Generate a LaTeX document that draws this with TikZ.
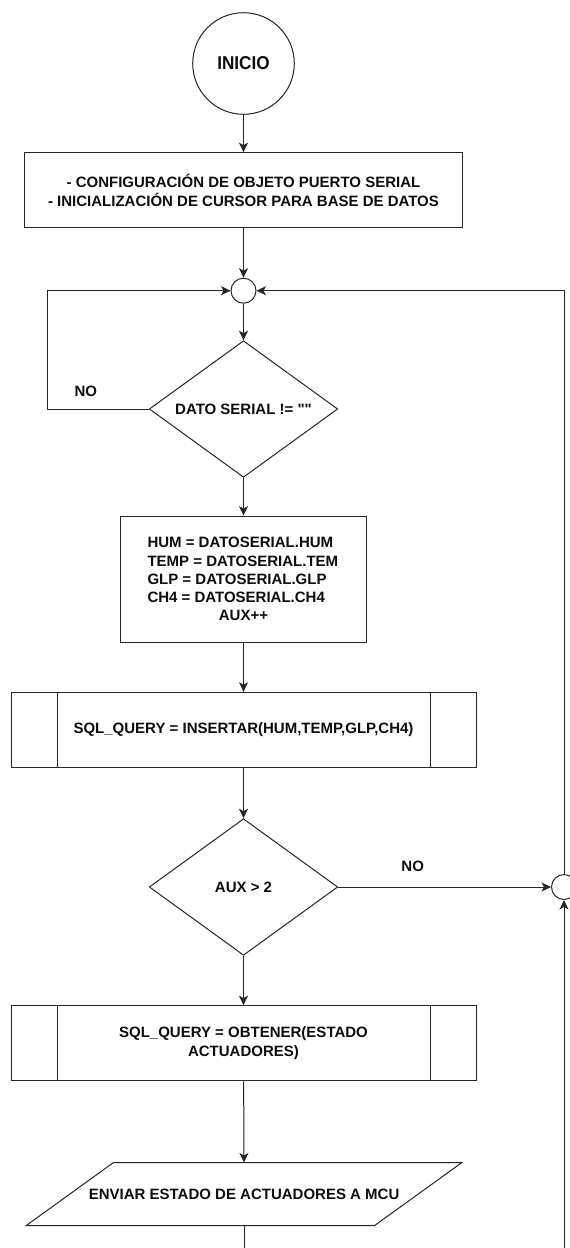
\documentclass[tikz,border=0pt]{standalone}
\usepackage{fontspec}
\setmainfont{Liberation Sans}[Ligatures=TeXOff]
\newfontfamily\startfont{Liberation Sans}[Ligatures=TeXOff, FakeStretch=0.92]
\usetikzlibrary{shapes.geometric,arrows.meta,calc}
\begin{document}
\begin{tikzpicture}[x=1pt,y=-1pt,
  line/.style={draw=black!85, line width=1pt},
  flow/.style={line, -{Stealth[length=9.5pt,width=9pt,inset=2.5pt]}},
  txt/.style={font=\fontsize{15}{19.3}\selectfont\bfseries, text=black!95},
  box/.style={txt, line, rectangle, inner sep=0pt, align=center},
  junction/.style={line, circle, minimum size=25pt, inner sep=0pt},
  decision/.style={txt, line, diamond, aspect=1.38, inner sep=0pt,
    minimum width=188.5pt, minimum height=136.6pt},
  subproc/.style={box, minimum width=465pt, minimum height=75pt}
]
\path[use as bounding box, fill=white] (0,0) rectangle (570,1248);

% main column
\node[txt, line, circle, minimum size=101.6pt, inner sep=0pt,
      font=\startfont\fontsize{18.6}{20}\selectfont\bfseries] (start) at (243.5,63.5) {INICIO};
\node[box, minimum width=438pt, minimum height=75pt] (init) at (243.5,190.2)
  {- CONFIGURACIÓN DE OBJETO PUERTO SERIAL\\- INICIALIZACIÓN DE CURSOR PARA BASE DE DATOS};
\node[junction] (j1) at (243.5,290.7) {};
\node[decision] (d1) at (243.5,409) {DATO SERIAL != ""};
\node[box, minimum width=245.8pt, minimum height=126.3pt,
      font=\fontsize{15}{18.3}\selectfont\bfseries] (proc) at (243.5,579.2)
  {\makebox[192pt][l]{HUM = DATOSERIAL.HUM}\\
   \makebox[192pt][l]{TEMP = DATOSERIAL.TEM}\\
   \makebox[192pt][l]{GLP = DATOSERIAL.GLP}\\
   \makebox[192pt][l]{CH4 = DATOSERIAL.CH4}\\
   AUX++};
\node[subproc] (ins) at (243.5,729.8) {SQL\_QUERY = INSERTAR(HUM,TEMP,GLP,CH4)};
\node[decision] (d2) at (243.5,887) {AUX > 2};
\node[junction] (j2) at (564,887) {};
\node[subproc, minimum height=75.3pt] (obt) at (243.5,1043.3)
  {SQL\_QUERY = OBTENER(ESTADO\\ACTUADORES)};
\node[txt, minimum width=435.3pt, minimum height=62.6pt, inner sep=0pt] (send) at (244.1,1194)
  {ENVIAR ESTADO DE ACTUADORES A MCU};

% side bars of the predefined-process boxes
\foreach \b in {ins,obt}{
  \draw[line] ([xshift=47pt]\b.north west) -- ([xshift=47pt]\b.south west);
  \draw[line] ([xshift=-46pt]\b.north east) -- ([xshift=-46pt]\b.south east);
}
% data output parallelogram
\draw[line] ([xshift=87.3pt]send.north west) -- (send.north east)
  -- ([xshift=-87.3pt]send.south east) -- (send.south west) -- cycle;

% labels
\node[txt] (no1) at (85.8,391) {NO};
\node[txt] (no2) at (412.7,866.7) {NO};

% connectors
\draw[flow] (start) -- (init);
\draw[flow] (init) -- (j1);
\draw[flow] (j1) -- (d1);
\draw[flow] (d1.west) -- ++(-100.9,0) |- (j1.west);
\draw[flow] (d1) -- (proc);
\draw[flow] (proc) -- (ins);
\draw[flow] (ins) -- (d2);
\draw[flow] (d2) -- (j2);
\draw[flow] (d2) -- (obt);
\draw[flow] (obt) -- (send);
\draw[line] (send.south) -- ++(0,40);
\draw[flow] ([yshift=-400pt]j2.south) -- (j2.south);
\draw[flow] (j2.north) |- (j1.east);
\end{tikzpicture}
\end{document}
